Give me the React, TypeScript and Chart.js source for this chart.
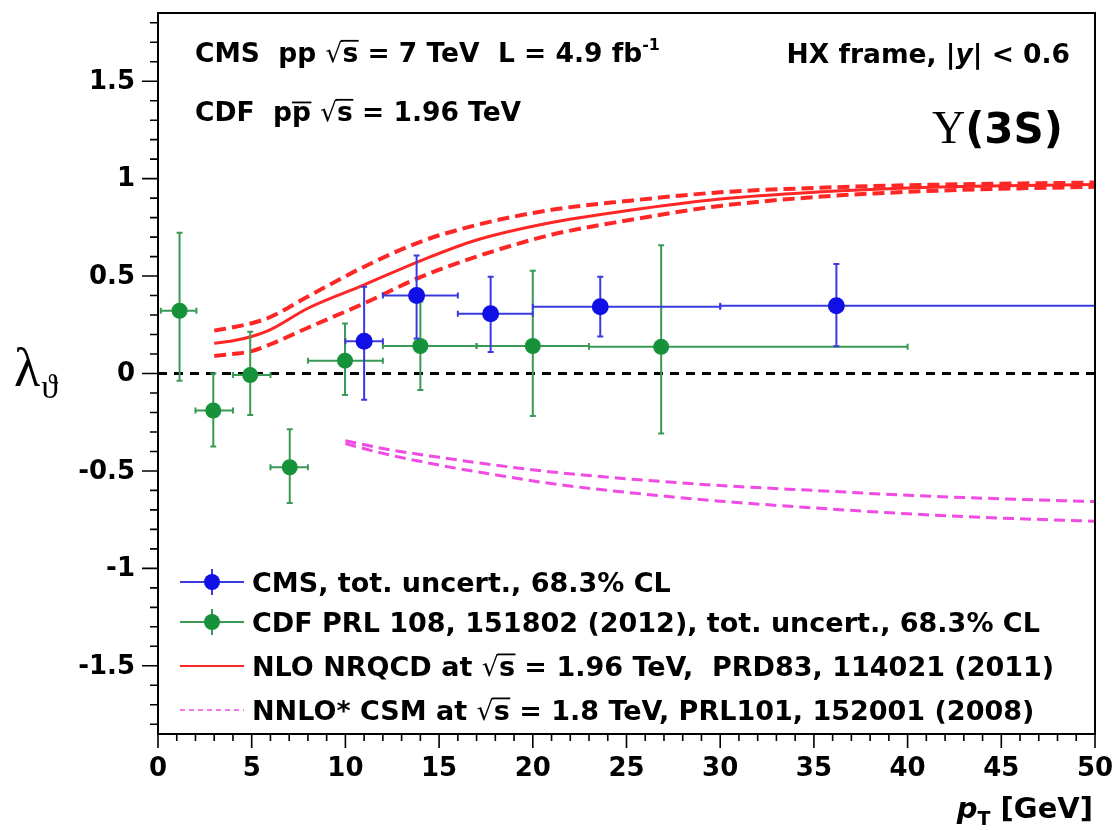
import React, { useEffect, useRef } from 'react';
import { Chart, registerables } from 'chart.js';

Chart.register(...registerables);

// ---------------- data ----------------
const cmsX = [11.0, 13.8, 17.75, 23.6, 36.2];
const cmsY = [0.165, 0.40, 0.307, 0.343, 0.348];
const cmsXLow = [10, 12, 16, 20, 30];
const cmsXHigh = [12, 16, 20, 30, 50];
const cmsYLow = [-0.135, 0.18, 0.11, 0.19, 0.14];
const cmsYHigh = [0.445, 0.605, 0.497, 0.497, 0.562];

const cdfX = [1.15, 2.95, 4.92, 7.03, 9.98, 14.0, 20.0, 26.85];
const cdfY = [0.322, -0.19, -0.008, -0.481, 0.066, 0.141, 0.141, 0.137];
const cdfXLow = [0.15, 2, 4, 6, 8, 12, 17, 23];
const cdfXHigh = [2.05, 4, 6, 8, 12, 17, 23, 40];
const cdfYLow = [-0.037, -0.375, -0.213, -0.665, -0.11, -0.085, -0.218, -0.308];
const cdfYHigh = [0.722, 0.0, 0.214, -0.286, 0.257, 0.37, 0.527, 0.658];

const nloX = [3, 4, 5, 6, 8, 11, 14, 17, 21, 25, 30, 35, 40, 45, 50];
const nloCentral = [0.155, 0.168, 0.19, 0.225, 0.335, 0.455, 0.578, 0.685, 0.775, 0.835, 0.895, 0.93, 0.952, 0.963, 0.97];
const nloUpper = [0.22, 0.237, 0.258, 0.29, 0.395, 0.548, 0.676, 0.762, 0.84, 0.885, 0.93, 0.952, 0.966, 0.974, 0.98];
const nloLower = [0.09, 0.1, 0.115, 0.15, 0.235, 0.36, 0.495, 0.6, 0.712, 0.785, 0.86, 0.905, 0.932, 0.948, 0.958];

const csmX = [10, 12, 15, 18, 21, 25, 30, 35, 40, 45, 50];
const csmUpper = [-0.345, -0.385, -0.43, -0.47, -0.505, -0.54, -0.575, -0.6, -0.625, -0.643, -0.657];
const csmLower = [-0.36, -0.41, -0.47, -0.52, -0.565, -0.61, -0.655, -0.69, -0.72, -0.742, -0.758];

const zeroLineX = [0, 50];
const zeroLineY = [0, 0];

const xMajorTicks = [0, 5, 10, 15, 20, 25, 30, 35, 40, 45, 50];
const yMajorTicks = [-1.5, -1, -0.5, 0, 0.5, 1, 1.5];
const X_MIN = 0, X_MAX = 50, Y_MIN = -1.85, Y_MAX = 1.85;

const legendLabels = [
  'CMS, tot. uncert., 68.3% CL',
  'CDF PRL 108, 151802 (2012), tot. uncert., 68.3% CL',
  'NLO NRQCD at ',
  'NNLO* CSM at ',
];

// ---------------- styles ----------------
const SANS = '"DejaVu Sans", "Liberation Sans", sans-serif';
const SERIF = '"Liberation Serif", "DejaVu Serif", serif';
const BLUE = '#1010e6';
const BLUE_BAR = '#3a3ae0';
const GREEN = '#16923a';
const GREEN_BAR = '#3a9a55';
const RED = '#ff2626';
const MAGENTA = '#f04be2';

const pts = (xs: number[], ys: number[]) => xs.map((x, i) => ({ x, y: ys[i] }));

type Piece = { t: string; font: string; dy?: number; over?: number; overFrom?: number };

function drawPieces(ctx: CanvasRenderingContext2D, x: number, y: number, pieces: Piece[], align: 'left' | 'right' = 'left') {
  const ws = pieces.map((p) => { ctx.font = p.font; return ctx.measureText(p.t).width; });
  const total = ws.reduce((a, b) => a + b, 0);
  let cx = align === 'right' ? x - total : x;
  ctx.textAlign = 'left';
  ctx.textBaseline = 'alphabetic';
  ctx.fillStyle = '#000';
  pieces.forEach((p, i) => {
    ctx.font = p.font;
    ctx.fillText(p.t, cx, y + (p.dy || 0));
    if (p.over !== undefined) {
      ctx.beginPath();
      ctx.lineWidth = 1.8;
      ctx.strokeStyle = '#000';
      ctx.moveTo(cx + (p.overFrom || 0), y - p.over);
      ctx.lineTo(cx + ws[i] + 0.5, y - p.over);
      ctx.stroke();
    }
    cx += ws[i];
  });
  return total;
}

function sqrtS(size: number): Piece[] {
  return [
    { t: '\u221A', font: `${size}px ${SANS}` },
    { t: 's', font: `bold ${size}px ${SANS}`, over: size * 0.8, overFrom: -1.5 },
  ];
}

const errorBarPlugin = {
  id: 'errorBars',
  beforeDatasetDraw(chart: any, args: any) {
    const ds = chart.data.datasets[args.index];
    if (!ds.err) return;
    const { ctx, chartArea, scales } = chart;
    const xs = scales.x, ys = scales.y;
    const e = ds.err;
    ctx.save();
    ctx.beginPath();
    ctx.rect(chartArea.left, chartArea.top, chartArea.right - chartArea.left, chartArea.bottom - chartArea.top);
    ctx.clip();
    ctx.strokeStyle = e.color;
    ctx.lineWidth = 2;
    for (let i = 0; i < e.x.length; i++) {
      const px = xs.getPixelForValue(e.x[i]);
      const py = ys.getPixelForValue(e.y[i]);
      const x0 = xs.getPixelForValue(e.xl[i]);
      const x1 = xs.getPixelForValue(e.xh[i]);
      const y0 = ys.getPixelForValue(e.yl[i]);
      const y1 = ys.getPixelForValue(e.yh[i]);
      ctx.beginPath();
      ctx.moveTo(x0, py); ctx.lineTo(x1, py);
      ctx.moveTo(px, y0); ctx.lineTo(px, y1);
      ctx.moveTo(x0, py - 3); ctx.lineTo(x0, py + 3);
      ctx.moveTo(x1, py - 3); ctx.lineTo(x1, py + 3);
      ctx.moveTo(px - 3, y0); ctx.lineTo(px + 3, y0);
      ctx.moveTo(px - 3, y1); ctx.lineTo(px + 3, y1);
      ctx.stroke();
    }
    ctx.restore();
  },
};

const decorPlugin = {
  id: 'decor',
  afterDraw(chart: any) {
    const { ctx, chartArea, scales } = chart;
    const xs = scales.x, ys = scales.y;
    const { left, right, top, bottom } = chartArea;
    ctx.save();
    // frame
    ctx.strokeStyle = '#000';
    ctx.lineWidth = 2;
    ctx.strokeRect(left, top, right - left, bottom - top);
    // ticks
    ctx.lineWidth = 1.6;
    ctx.beginPath();
    for (let v = X_MIN; v <= X_MAX; v += 1) {
      const px = xs.getPixelForValue(v);
      const len = v % 5 === 0 ? 14 : 7;
      ctx.moveTo(px, bottom); ctx.lineTo(px, bottom + len);
    }
    for (let k = -18; k <= 18; k++) {
      const py = ys.getPixelForValue(k / 10);
      const len = k % 5 === 0 ? 16 : 8;
      ctx.moveTo(left - len, py); ctx.lineTo(left, py);
    }
    ctx.stroke();

    // tick labels
    ctx.fillStyle = '#000';
    ctx.font = `bold 26px ${SANS}`;
    ctx.textBaseline = 'middle';
    ctx.textAlign = 'center';
    xMajorTicks.forEach((v) => ctx.fillText(String(v), xs.getPixelForValue(v), bottom + 35));
    ctx.textAlign = 'right';
    yMajorTicks.forEach((v) => ctx.fillText(String(v), left - 23, ys.getPixelForValue(v) + 1));

    const S = 26.5;
    const B = `bold ${S}px ${SANS}`;
    // top-left annotations
    drawPieces(ctx, 195, 62, [
      { t: 'CMS  pp ', font: B },
      ...sqrtS(S),
      { t: ' = 7 TeV  L = 4.9 fb', font: B },
      { t: '-1', font: `bold 16px ${SANS}`, dy: -12 },
    ]);
    drawPieces(ctx, 195, 121, [
      { t: 'CDF  p', font: B },
      { t: 'p', font: B, over: S * 0.7 },
      { t: ' ', font: B },
      ...sqrtS(S),
      { t: ' = 1.96 TeV', font: B },
    ]);
    drawPieces(ctx, 1070, 63, [
      { t: 'HX frame, |', font: B },
      { t: 'y', font: `italic bold ${S}px ${SANS}` },
      { t: '| < 0.6', font: B },
    ], 'right');
    drawPieces(ctx, 1063, 143, [
      { t: '\u03A5', font: `46px ${SERIF}` },
      { t: '(3S)', font: `bold 42px ${SANS}` },
    ], 'right');

    // y title
    drawPieces(ctx, 14, 386, [{ t: '\u03BB', font: `54px ${SERIF}` }]);
    ctx.font = `54px ${SERIF}`;
    const lw = ctx.measureText('\u03BB').width;
    drawPieces(ctx, 14 + lw + 1, 398, [{ t: '\u03D1', font: `34px ${SERIF}` }]);

    // x title
    drawPieces(ctx, 1093, 818, [
      { t: 'p', font: `italic bold 29px ${SANS}` },
      { t: 'T', font: `bold 19px ${SANS}`, dy: 7 },
      { t: ' [GeV]', font: `bold 29px ${SANS}` },
    ], 'right');

    // legend
    const L = 27;
    const LB = `bold ${L}px ${SANS}`;
    const rows = [582, 622, 666, 710];
    const x0 = 180, x1 = 244, xm = 212, tx = 252;
    ctx.lineWidth = 2;
    ctx.strokeStyle = BLUE_BAR;
    ctx.beginPath();
    ctx.moveTo(x0, rows[0]); ctx.lineTo(x1, rows[0]);
    ctx.moveTo(xm, rows[0] - 13); ctx.lineTo(xm, rows[0] + 13);
    ctx.stroke();
    ctx.fillStyle = BLUE;
    ctx.beginPath(); ctx.arc(xm, rows[0], 8, 0, Math.PI * 2); ctx.fill();
    ctx.strokeStyle = GREEN_BAR;
    ctx.beginPath();
    ctx.moveTo(x0, rows[1]); ctx.lineTo(x1, rows[1]);
    ctx.moveTo(xm, rows[1] - 13); ctx.lineTo(xm, rows[1] + 13);
    ctx.stroke();
    ctx.fillStyle = GREEN;
    ctx.beginPath(); ctx.arc(xm, rows[1], 8, 0, Math.PI * 2); ctx.fill();
    ctx.strokeStyle = RED;
    ctx.lineWidth = 2;
    ctx.beginPath(); ctx.moveTo(x0, rows[2]); ctx.lineTo(x1, rows[2]); ctx.stroke();
    ctx.strokeStyle = MAGENTA;
    ctx.lineWidth = 1.5;
    ctx.setLineDash([5, 4]);
    ctx.beginPath(); ctx.moveTo(x0, rows[3]); ctx.lineTo(x1, rows[3]); ctx.stroke();
    ctx.setLineDash([]);

    const off = 10;
    drawPieces(ctx, tx, rows[0] + off, [{ t: legendLabels[0], font: LB }]);
    drawPieces(ctx, tx, rows[1] + off, [{ t: legendLabels[1], font: LB }]);
    drawPieces(ctx, tx, rows[2] + off, [
      { t: legendLabels[2], font: LB },
      ...sqrtS(L),
      { t: ' = 1.96 TeV,  PRD83, 114021 (2011)', font: LB },
    ]);
    drawPieces(ctx, tx, rows[3] + off, [
      { t: legendLabels[3], font: LB },
      ...sqrtS(L),
      { t: ' = 1.8 TeV, PRL101, 152001 (2008)', font: LB },
    ]);
    ctx.restore();
  },
};

export default function App() {
  const ref = useRef<HTMLCanvasElement | null>(null);
  useEffect(() => {
    if (!ref.current) return;
    const chart = new Chart(ref.current, {
      type: 'scatter',
      data: {
        datasets: [
          {
            label: 'CMS',
            data: pts(cmsX, cmsY),
            pointRadius: 8.5,
            pointBackgroundColor: BLUE,
            pointBorderWidth: 0,
            showLine: false,
            err: { x: cmsX, y: cmsY, xl: cmsXLow, xh: cmsXHigh, yl: cmsYLow, yh: cmsYHigh, color: BLUE_BAR },
          } as any,
          {
            label: 'CDF',
            data: pts(cdfX, cdfY),
            pointRadius: 8,
            pointBackgroundColor: GREEN,
            pointBorderWidth: 0,
            showLine: false,
            err: { x: cdfX, y: cdfY, xl: cdfXLow, xh: cdfXHigh, yl: cdfYLow, yh: cdfYHigh, color: GREEN_BAR },
          } as any,
          {
            label: 'NLO central',
            data: pts(nloX, nloCentral),
            showLine: true, pointRadius: 0, borderColor: RED, borderWidth: 3,
            cubicInterpolationMode: 'monotone',
          },
          {
            label: 'NLO upper',
            data: pts(nloX, nloUpper),
            showLine: true, pointRadius: 0, borderColor: RED, borderWidth: 4,
            borderDash: [12, 6], cubicInterpolationMode: 'monotone',
          },
          {
            label: 'NLO lower',
            data: pts(nloX, nloLower),
            showLine: true, pointRadius: 0, borderColor: RED, borderWidth: 4,
            borderDash: [12, 6], cubicInterpolationMode: 'monotone',
          },
          {
            label: 'CSM upper',
            data: pts(csmX, csmUpper),
            showLine: true, pointRadius: 0, borderColor: MAGENTA, borderWidth: 3,
            borderDash: [11, 6], cubicInterpolationMode: 'monotone',
          },
          {
            label: 'CSM lower',
            data: pts(csmX, csmLower),
            showLine: true, pointRadius: 0, borderColor: MAGENTA, borderWidth: 3,
            borderDash: [11, 6], cubicInterpolationMode: 'monotone',
          },
          {
            label: 'zero',
            data: pts(zeroLineX, zeroLineY),
            showLine: true, pointRadius: 0, borderColor: '#000', borderWidth: 3,
            borderDash: [9, 7],
          },
        ],
      },
      options: {
        animation: false,
        responsive: true,
        maintainAspectRatio: false,
        events: [],
        layout: { padding: { top: 13, right: 21, left: 0, bottom: 0 } },
        plugins: { legend: { display: false }, tooltip: { enabled: false } },
        scales: {
          x: {
            type: 'linear', min: X_MIN, max: X_MAX,
            grid: { display: false, drawTicks: false },
            border: { display: false },
            afterBuildTicks: (s: any) => { s.ticks = xMajorTicks.map((v) => ({ value: v })); },
            afterFit: (s: any) => { s.height = 96; },
            ticks: { display: false },
          },
          y: {
            type: 'linear', min: Y_MIN, max: Y_MAX,
            grid: { display: false, drawTicks: false },
            border: { display: false },
            afterBuildTicks: (s: any) => { s.ticks = yMajorTicks.map((v) => ({ value: v })); },
            afterFit: (s: any) => { s.width = 158; },
            ticks: { display: false },
          },
        },
      },
      plugins: [errorBarPlugin, decorPlugin],
    });
    return () => chart.destroy();
  }, []);
  return (
    <div style={{ position: 'absolute', left: 0, top: 0, width: 1116, height: 830, background: '#fff' }}>
      <canvas ref={ref} />
    </div>
  );
}
